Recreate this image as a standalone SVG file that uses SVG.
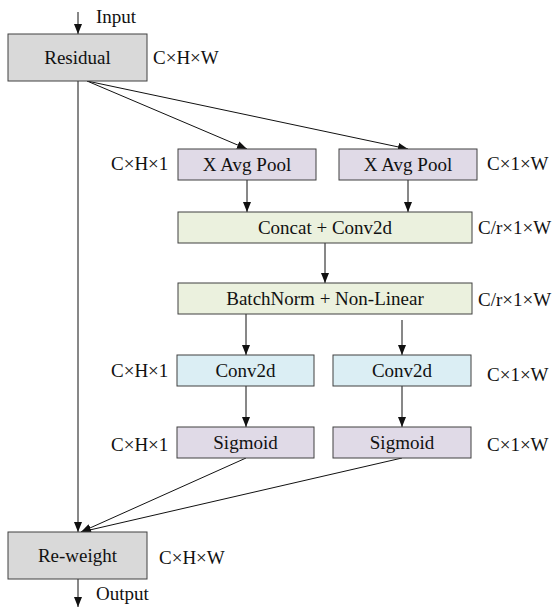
<svg xmlns="http://www.w3.org/2000/svg" width="552" height="612" viewBox="0 0 552 612">
  <style>
    .box { stroke: #404040; stroke-width: 1; }
    .gray { fill: #d9d9d9; }
    .purple { fill: #e0dae7; }
    .green { fill: #ebf1de; }
    .blue { fill: #dbeef4; }
    text { font-family: "Liberation Serif", "Times New Roman", serif; font-size: 19px; fill: #111; }
    .c { text-anchor: middle; }
    .edge { stroke: #111; stroke-width: 1; fill: none; }
  </style>
  <defs>
    <marker id="arrow" viewBox="0 0 10 8" refX="10" refY="4" markerWidth="10" markerHeight="8" markerUnits="userSpaceOnUse" orient="auto">
      <path d="M0,0 L10,4 L0,8 Z" fill="#111"/>
    </marker>
  </defs>

  <!-- connectors -->
  <g id="connectors">
    <line class="edge" x1="78" y1="12" x2="78" y2="34" marker-end="url(#arrow)"/>
    <line class="edge" x1="87" y1="81" x2="247" y2="149" marker-end="url(#arrow)"/>
    <line class="edge" x1="87" y1="81" x2="408" y2="149" marker-end="url(#arrow)"/>
    <line class="edge" x1="78" y1="81" x2="78" y2="532" marker-end="url(#arrow)"/>
    <line class="edge" x1="247" y1="180" x2="247" y2="212" marker-end="url(#arrow)"/>
    <line class="edge" x1="408" y1="180" x2="408" y2="212" marker-end="url(#arrow)"/>
    <line class="edge" x1="325" y1="243" x2="325" y2="283" marker-end="url(#arrow)"/>
    <line class="edge" x1="246" y1="314" x2="246" y2="355" marker-end="url(#arrow)"/>
    <line class="edge" x1="402" y1="320" x2="402" y2="355" marker-end="url(#arrow)"/>
    <line class="edge" x1="246" y1="386" x2="246" y2="427" marker-end="url(#arrow)"/>
    <line class="edge" x1="402" y1="386" x2="402" y2="427" marker-end="url(#arrow)"/>
    <line class="edge" x1="246" y1="458" x2="81" y2="532" marker-end="url(#arrow)"/>
    <line class="edge" x1="402" y1="458" x2="81" y2="532" marker-end="url(#arrow)"/>
    <line class="edge" x1="78" y1="579" x2="78" y2="607" marker-end="url(#arrow)"/>
  </g>

  <text x="96" y="23">Input</text>
  <text x="96" y="600">Output</text>

  <g id="residual">
    <rect class="box gray" x="8" y="34" width="139" height="47"/>
    <text class="c" x="77.5" y="64">Residual</text>
    <text x="153" y="64">C×H×W</text>
  </g>

  <g id="pool-h">
    <rect class="box purple" x="178" y="149" width="138" height="31"/>
    <text class="c" x="247" y="171">X Avg Pool</text>
    <text x="111" y="170">C×H×1</text>
  </g>

  <g id="pool-w">
    <rect class="box purple" x="339" y="149" width="138" height="31"/>
    <text class="c" x="408" y="171">X Avg Pool</text>
    <text x="487" y="170">C×1×W</text>
  </g>

  <g id="concat">
    <rect class="box green" x="178" y="212" width="294" height="31"/>
    <text class="c" x="325" y="234">Concat + Conv2d</text>
    <text x="478" y="234">C/r×1×W</text>
  </g>

  <g id="batchnorm">
    <rect class="box green" x="178" y="283" width="294" height="31"/>
    <text class="c" x="325" y="305">BatchNorm + Non-Linear</text>
    <text x="478" y="306">C/r×1×W</text>
  </g>

  <g id="conv-h">
    <rect class="box blue" x="177" y="355" width="137" height="31"/>
    <text class="c" x="245.5" y="377">Conv2d</text>
    <text x="111" y="377">C×H×1</text>
  </g>

  <g id="conv-w">
    <rect class="box blue" x="333" y="355" width="138" height="31"/>
    <text class="c" x="402" y="377">Conv2d</text>
    <text x="487" y="381">C×1×W</text>
  </g>

  <g id="sigmoid-h">
    <rect class="box purple" x="177" y="427" width="137" height="31"/>
    <text class="c" x="245.5" y="449">Sigmoid</text>
    <text x="111" y="451">C×H×1</text>
  </g>

  <g id="sigmoid-w">
    <rect class="box purple" x="333" y="427" width="138" height="31"/>
    <text class="c" x="402" y="449">Sigmoid</text>
    <text x="487" y="451">C×1×W</text>
  </g>

  <g id="reweight">
    <rect class="box gray" x="8" y="532" width="139" height="47"/>
    <text class="c" x="77.5" y="562">Re-weight</text>
    <text x="159" y="564">C×H×W</text>
  </g>
</svg>
